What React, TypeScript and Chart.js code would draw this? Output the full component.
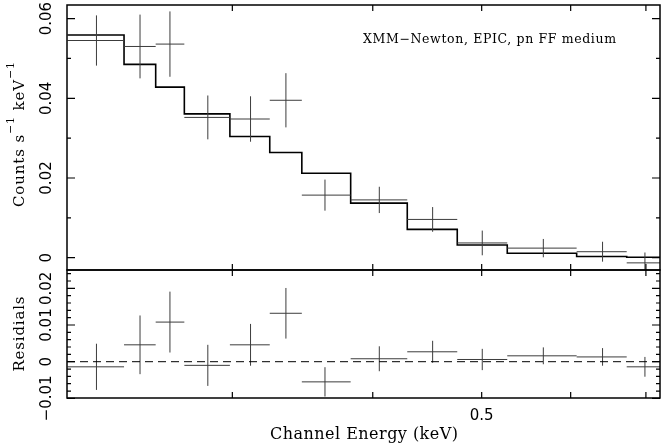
import React, { useEffect, useRef } from 'react';
import { Chart, registerables } from 'chart.js';
Chart.register(...registerables);

// ---- data ----
const binEdges = [0.2140, 0.2403, 0.2564, 0.2719, 0.2985, 0.3239, 0.3459, 0.3823, 0.4293, 0.4756, 0.5269, 0.6074, 0.6730, 0.7243];
const channelEnergy = [0.2271, 0.2483, 0.2640, 0.2853, 0.3114, 0.3348, 0.3627, 0.4054, 0.4522, 0.5006, 0.5673, 0.6405, 0.6986];
const counts = [0.0545, 0.0530, 0.0536, 0.0352, 0.0348, 0.0395, 0.0157, 0.0145, 0.0096, 0.0037, 0.0024, 0.0015, -0.0013];
const countsErr = [0.0063, 0.0080, 0.0082, 0.0055, 0.0057, 0.0068, 0.0039, 0.0033, 0.0031, 0.0031, 0.0023, 0.0025, 0.0026];
const model = [0.0559, 0.0485, 0.0428, 0.0361, 0.0304, 0.0264, 0.0212, 0.0137, 0.0071, 0.0032, 0.0011, 0.0003, 0.0001];
const residuals = [-0.0014, 0.0046, 0.0108, -0.0010, 0.0046, 0.0132, -0.0055, 0.0008, 0.0027, 0.0006, 0.0016, 0.0013, -0.0014];
const residualsErr = [0.0063, 0.0080, 0.0083, 0.0056, 0.0057, 0.0069, 0.0040, 0.0034, 0.0030, 0.0029, 0.0023, 0.0024, 0.0027];

const xMin = 0.2138;
const xMax = 0.7205;
const xTicks = [0.3, 0.4, 0.5, 0.6, 0.7];
const xTickLabels = ['', '', '0.5', '', ''];

const upperMin = -0.00309;
const upperMax = 0.06341;
const upperMajor = [0, 0.02, 0.04, 0.06];
const upperLabels = ['0', '0.02', '0.04', '0.06'];
const upperMinor = [0.01, 0.03, 0.05];

const lowerMin = -0.0099;
const lowerMax = 0.025;
const lowerMajor = [-0.01, 0, 0.01, 0.02];
const lowerLabels = ['\u22120.01', '0', '0.01', '0.02'];
const lowerMinor = [-0.008, -0.006, -0.004, -0.002, 0.002, 0.004, 0.006, 0.008, 0.012, 0.014, 0.016, 0.018, 0.022, 0.024];

const titleText = 'XMM\u2212Newton, EPIC, pn FF medium';
const xTitle = 'Channel Energy (keV)';
const upperTitleMain1 = 'Counts s';
const upperTitleMain2 = ' keV';
const upperTitleSup = '\u22121';
const lowerTitle = 'Residials';

// ---- helpers ----
type Piece = { text: string; font: string; dy: number };

function drawPieces(ctx: CanvasRenderingContext2D, pieces: Piece[], x: number, y: number, target: number, align: 'left' | 'center', rotate: boolean) {
  ctx.save();
  ctx.translate(x, y);
  if (rotate) ctx.rotate(-Math.PI / 2);
  ctx.textBaseline = 'alphabetic';
  ctx.textAlign = 'left';
  const anyCtx = ctx as any;
  const hasLs = 'letterSpacing' in anyCtx;
  if (hasLs) anyCtx.letterSpacing = '0px';
  let natural = 0;
  let chars = 0;
  const widths = pieces.map((p) => {
    ctx.font = p.font;
    const w = ctx.measureText(p.text).width;
    natural += w;
    chars += p.text.length;
    return w;
  });
  const ls = hasLs ? Math.max(0, (target - natural) / Math.max(1, chars - 1)) : 0;
  const total = natural + ls * (chars - 1);
  let cx = align === 'center' ? -total / 2 : 0;
  pieces.forEach((p, i) => {
    ctx.font = p.font;
    if (hasLs) anyCtx.letterSpacing = ls + 'px';
    ctx.fillText(p.text, cx, p.dy);
    cx += widths[i] + ls * p.text.length;
  });
  ctx.restore();
}

function crossPoints(vals: number[], errs: number[]) {
  const pts: { x: number; y: number | null }[] = [];
  for (let i = 0; i < vals.length; i++) {
    pts.push({ x: binEdges[i], y: vals[i] });
    pts.push({ x: binEdges[i + 1], y: vals[i] });
    pts.push({ x: binEdges[i + 1], y: null });
    pts.push({ x: channelEnergy[i], y: vals[i] - errs[i] });
    pts.push({ x: channelEnergy[i], y: vals[i] + errs[i] });
    pts.push({ x: channelEnergy[i], y: null });
  }
  return pts;
}

function stepPoints(vals: number[]) {
  const pts = vals.map((v, i) => ({ x: binEdges[i], y: v }));
  pts.push({ x: binEdges[vals.length], y: vals[vals.length - 1] });
  return pts;
}

type FrameCfg = {
  major: number[];
  labels: string[];
  minor: number[];
  extra: (chart: any, ctx: CanvasRenderingContext2D, a: any) => void;
};

function makeFrame(cfg: FrameCfg) {
  return {
    id: 'pgframe',
    afterDraw(chart: any) {
      const ctx: CanvasRenderingContext2D = chart.ctx;
      const a = chart.chartArea;
      const xs = chart.scales.x;
      const ys = chart.scales.y;
      ctx.save();
      ctx.strokeStyle = '#000';
      ctx.lineWidth = 1.5;
      ctx.strokeRect(a.left, a.top, a.right - a.left, a.bottom - a.top);
      ctx.lineWidth = 1.2;
      ctx.beginPath();
      xTicks.forEach((v) => {
        const px = xs.getPixelForValue(v);
        ctx.moveTo(px, a.top);
        ctx.lineTo(px, a.top + 6);
        ctx.moveTo(px, a.bottom);
        ctx.lineTo(px, a.bottom - 6);
      });
      cfg.major.forEach((v) => {
        const py = ys.getPixelForValue(v);
        ctx.moveTo(a.left, py);
        ctx.lineTo(a.left + 8, py);
        ctx.moveTo(a.right, py);
        ctx.lineTo(a.right - 8, py);
      });
      cfg.minor.forEach((v) => {
        const py = ys.getPixelForValue(v);
        ctx.moveTo(a.left, py);
        ctx.lineTo(a.left + 4, py);
        ctx.moveTo(a.right, py);
        ctx.lineTo(a.right - 4, py);
      });
      ctx.stroke();
      ctx.fillStyle = '#000';
      ctx.font = '15px "DejaVu Sans"';
      cfg.major.forEach((v, i) => {
        const py = ys.getPixelForValue(v);
        ctx.save();
        ctx.translate(51, py);
        ctx.rotate(-Math.PI / 2);
        ctx.textAlign = 'center';
        ctx.textBaseline = 'alphabetic';
        ctx.fillText(cfg.labels[i], 0, 0);
        ctx.restore();
      });
      cfg.extra(chart, ctx, a);
      ctx.restore();
    },
  };
}

const dataColor = '#3c3c3c';

function baseOptions(ymin: number, ymax: number, padding: any) {
  return {
    responsive: false,
    animation: false as const,
    events: [] as any[],
    layout: { padding },
    plugins: { legend: { display: false }, tooltip: { enabled: false }, title: { display: false } },
    elements: { point: { radius: 0 } },
    scales: {
      x: {
        type: 'logarithmic' as const,
        min: xMin,
        max: xMax,
        bounds: 'data' as const,
        display: false,
        afterBuildTicks: (s: any) => {
          s.min = xMin;
          s.max = xMax;
        },
      },
      y: {
        type: 'linear' as const,
        min: ymin,
        max: ymax,
        bounds: 'data' as const,
        display: false,
        afterBuildTicks: (s: any) => {
          s.min = ymin;
          s.max = ymax;
        },
      },
    },
  };
}

export default function App() {
  const topRef = useRef<HTMLCanvasElement>(null);
  const botRef = useRef<HTMLCanvasElement>(null);

  useEffect(() => {
    const top = new Chart(topRef.current!, {
      type: 'line',
      data: {
        datasets: [
          {
            data: crossPoints(counts, countsErr) as any,
            borderColor: dataColor,
            borderWidth: 1,
            pointRadius: 0,
            spanGaps: false,
          },
          {
            data: stepPoints(model) as any,
            borderColor: '#000',
            borderWidth: 1.6,
            pointRadius: 0,
            stepped: 'before' as const,
          },
        ],
      },
      options: baseOptions(upperMin, upperMax, { left: 67, right: 1, top: 5, bottom: 10 }) as any,
      plugins: [
        makeFrame({
          major: upperMajor,
          labels: upperLabels,
          minor: upperMinor,
          extra: (chart, ctx, a) => {
            drawPieces(ctx, [{ text: titleText, font: '12.5px "DejaVu Serif"', dy: 0 }], 363, 43, 253, 'left', false);
            const cy = (a.top + a.bottom) / 2 - 3;
            drawPieces(
              ctx,
              [
                { text: upperTitleMain1, font: '15px "DejaVu Serif"', dy: 0 },
                { text: upperTitleSup, font: '11px "DejaVu Serif"', dy: -10 },
                { text: upperTitleMain2, font: '15px "DejaVu Serif"', dy: 0 },
                { text: upperTitleSup, font: '11px "DejaVu Serif"', dy: -10 },
              ],
              23.5,
              cy,
              145,
              'center',
              true
            );
          },
        }),
      ],
    });

    const bot = new Chart(botRef.current!, {
      type: 'line',
      data: {
        datasets: [
          {
            data: [{ x: xMin, y: 0 }, { x: xMax, y: 0 }] as any,
            borderColor: '#000',
            borderWidth: 1,
            borderDash: [8, 5],
            pointRadius: 0,
          },
          {
            data: crossPoints(residuals, residualsErr) as any,
            borderColor: dataColor,
            borderWidth: 1,
            pointRadius: 0,
            spanGaps: false,
          },
        ],
      },
      options: baseOptions(lowerMin, lowerMax, { left: 67, right: 1, top: 4, bottom: 50 }) as any,
      plugins: [
        makeFrame({
          major: lowerMajor,
          labels: lowerLabels,
          minor: lowerMinor,
          extra: (chart, ctx, a) => {
            const xs = chart.scales.x;
            ctx.font = '15px "DejaVu Sans"';
            ctx.textAlign = 'center';
            ctx.textBaseline = 'alphabetic';
            xTicks.forEach((v, i) => {
              if (xTickLabels[i]) ctx.fillText(xTickLabels[i], xs.getPixelForValue(v), a.bottom + 21.5);
            });
            drawPieces(ctx, [{ text: xTitle, font: '16px "DejaVu Serif"', dy: 0 }], 364, a.bottom + 40.5, 188, 'center', false);
            drawPieces(ctx, [{ text: lowerTitle, font: '15px "DejaVu Serif"', dy: 0 }], 23.5, (a.top + a.bottom) / 2, 75, 'center', true);
          },
        }),
      ],
    });

    return () => {
      top.destroy();
      bot.destroy();
    };
  }, []);

  return (
    <div style={{ position: 'fixed', left: 0, top: 0, width: 661, height: 448, background: '#fff' }}>
      <canvas ref={topRef} width={661} height={280} style={{ position: 'absolute', left: 0, top: 0, width: 661, height: 280 }} />
      <canvas ref={botRef} width={661} height={182} style={{ position: 'absolute', left: 0, top: 266, width: 661, height: 182 }} />
    </div>
  );
}
